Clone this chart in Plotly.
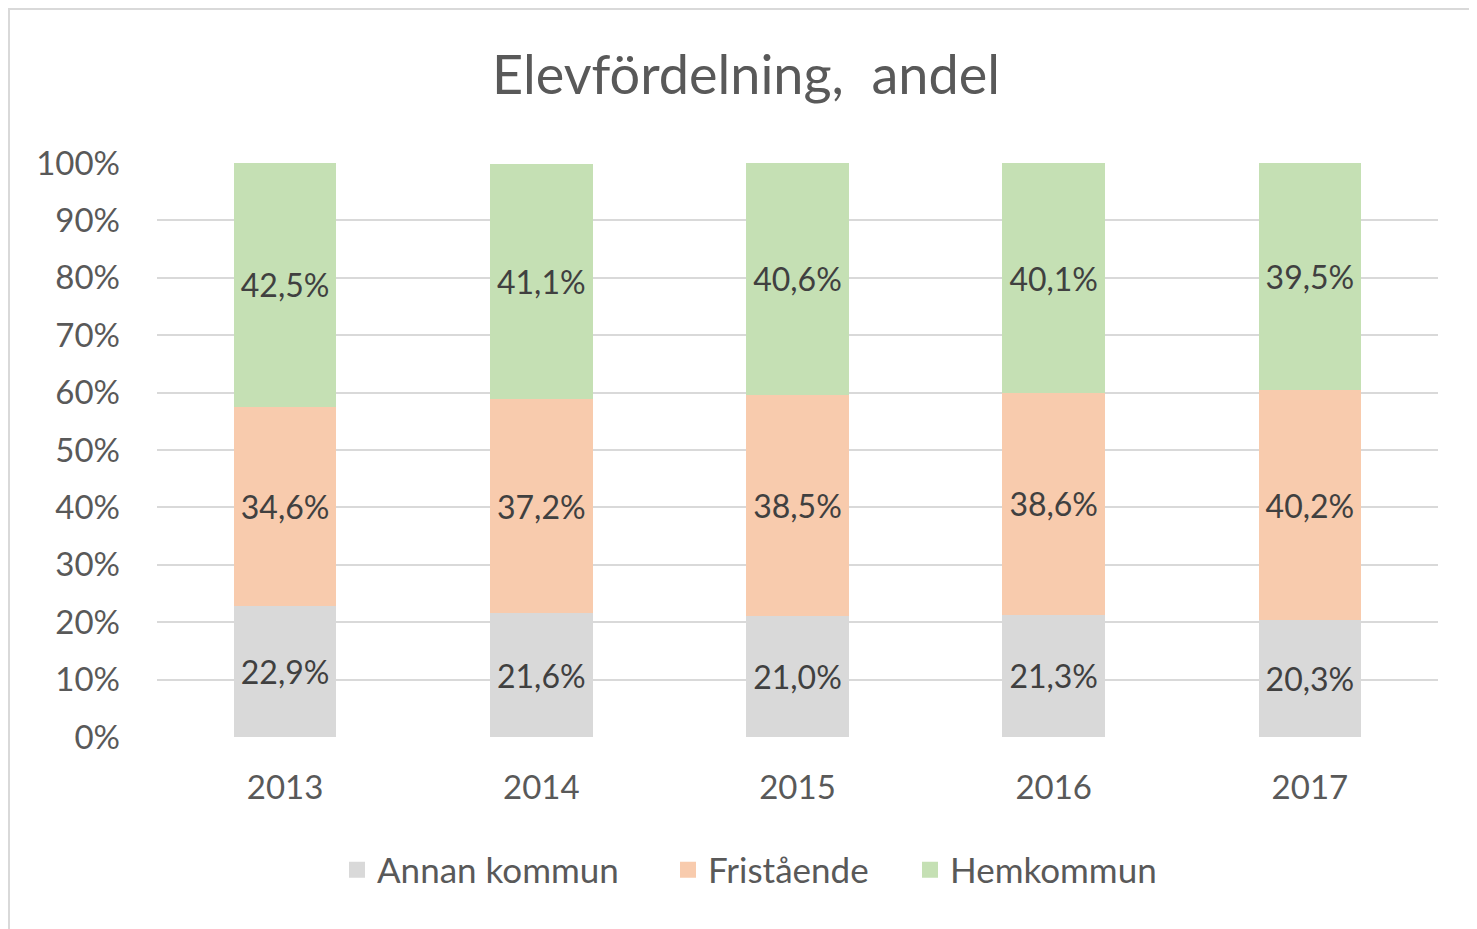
import plotly.graph_objects as go

years = ["2013", "2014", "2015", "2016", "2017"]
annan = [22.9, 21.6, 21.0, 21.3, 20.3]
fristaende = [34.6, 37.2, 38.5, 38.6, 40.2]
hemkommun = [42.5, 41.1, 40.6, 40.1, 39.5]

series = [
    ("Annan kommun", annan, "#d9d9d9"),
    ("Fristående", fristaende, "#f8cbad"),
    ("Hemkommun", hemkommun, "#c5e0b4"),
]

FONT = "Lato"
TXT = "#595959"
OFF = 8  # page body margin

def fmt(v):
    return f"{v:.1f}".replace(".", ",") + "%"

# reference pixel coords (screen)
L, R, T, B = 157, 1438, 163, 737
W, H = 1477, 929
pw, ph = R - L, B - T

def px_x(sx):
    return (sx - L) / pw

def px_y(sy):
    return (B - sy) / ph

legend_names = ["legend", "legend2", "legend3"]
legend_left = [337, 668, 910]  # screen x of legend item left

fig = go.Figure()
for i, (name, vals, col) in enumerate(series):
    fig.add_trace(go.Bar(
        x=years, y=vals, name=name, marker=dict(color=col, line=dict(width=0)),
        text=[fmt(v) for v in vals], textposition="inside", insidetextanchor="middle",
        textfont=dict(family=FONT, size=32, color="#404040"),
        showlegend=False, textangle=0,
    ))
    fig.add_trace(go.Scatter(
        x=[None], y=[None], mode="markers", name=name,
        marker=dict(symbol="square", size=22, color=col), showlegend=True,
        legend=legend_names[i],
    ))

legend_common = dict(orientation="h", xanchor="left", yanchor="middle",
                     y=px_y(870), font=dict(family=FONT, size=35, color=TXT),
                     bgcolor="rgba(0,0,0,0)")
layout_legends = {}
for nm, lx in zip(legend_names, legend_left):
    layout_legends[nm] = dict(legend_common, x=px_x(lx))

fig.update_layout(
    width=W, height=H,
    margin=dict(l=L - OFF, r=W - R + OFF, t=T - OFF, b=H - B + OFF, autoexpand=False),
    paper_bgcolor="white", plot_bgcolor="white",
    barmode="stack", bargap=0.6,
    title=dict(text="Elevfördelning,  andel", x=(746 - OFF) / W, xanchor="center",
               y=1 - (75 - OFF) / H, yanchor="middle", yref="container", xref="container",
               font=dict(family=FONT, size=54, color=TXT)),
    font=dict(family=FONT, color=TXT),
    shapes=[dict(type="rect", xref="paper", yref="paper",
                 x0=px_x(9), x1=px_x(1600),
                 y0=px_y(1000), y1=px_y(9),
                 line=dict(color="#d9d9d9", width=2), layer="below")],
    **layout_legends,
)
fig.update_xaxes(type="category", showgrid=False, zeroline=False, showline=False,
                 ticks="", tickfont=dict(family=FONT, size=33, color=TXT),
                 ticklabelstandoff=28)
fig.update_yaxes(range=[0, 100], dtick=10, ticksuffix="%", showgrid=True,
                 gridcolor="#d9d9d9", gridwidth=2, zeroline=False, showline=False,
                 ticks="", tickfont=dict(family=FONT, size=33, color=TXT),
                 ticklabelstandoff=36)

fig.write_html("out.html")
